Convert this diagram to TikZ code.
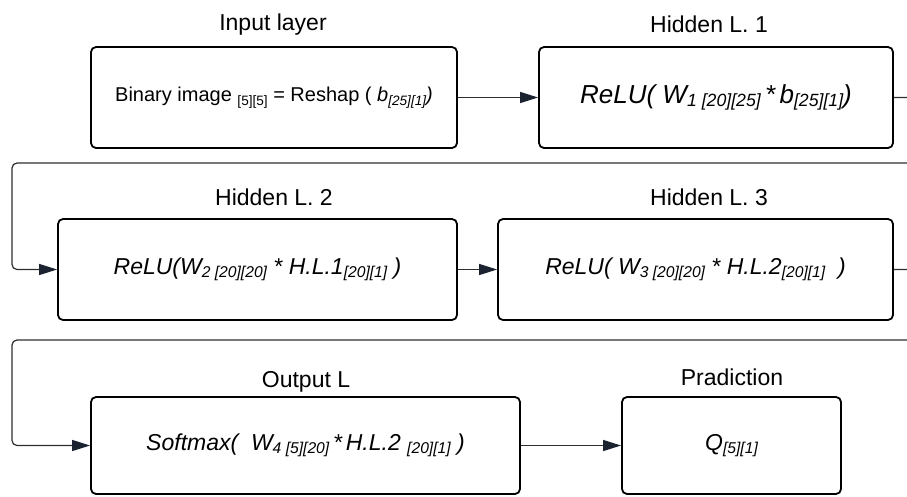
\documentclass[tikz,border=0pt]{standalone}
\usepackage{fontspec}
\setmainfont{Liberation Sans}
\usetikzlibrary{arrows.meta}
\definecolor{lineC}{HTML}{2E2E2E}
\definecolor{tipC}{HTML}{1B2230}
\newcommand\mysub[1]{\raisebox{-0.14em}{\scalebox{0.68}{#1}}}
\newcommand\mysubb[1]{\raisebox{-0.18em}{\scalebox{0.68}{#1}}}
\tikzset{
  layerbox/.style={draw=black, line width=1.8pt, rounded corners=5pt, inner sep=0pt, align=center},
  toptext/.style={anchor=base, font=\fontsize{23}{27}\selectfont},
  conn/.style={draw=lineC, line width=1.2pt, -{Triangle[length=18pt,width=11pt,color=tipC]}},
  connr/.style={conn, rounded corners=5pt},
  midtext/.style={font=\fontsize{23}{27}\selectfont\itshape}
}
\begin{document}
\begin{tikzpicture}[x=1pt,y=-1pt]
\useasboundingbox (0,0) rectangle (907,496);
\clip (0,0) rectangle (907,496);
% labels
\node[toptext] (t1) at (273,30) {Input layer};
\node[toptext] (t2) at (709,32) {Hidden L. 1};
\node[toptext] (t3) at (274,205) {Hidden L. 2};
\node[toptext] (t4) at (709,205) {Hidden L. 3};
\node[toptext] (t5) at (306,387) {Output L};
\node[toptext] (t6) at (732,385) {Pradiction};
% boxes
\node[layerbox, minimum width=366pt, minimum height=101pt, font=\fontsize{20}{24}\selectfont] (b1) at (274,97.5)
  {Binary image \mysubb{[5][5]} = Reshap ( \textit{b\mysubb{[25][1]})}};
\node[layerbox, minimum width=354pt, minimum height=101pt, font=\fontsize{26}{30}\selectfont\itshape] (b2) at (716,97.5)
  {ReLU( W\mysub{1 [20][25]}\,*\,b\mysub{[25][1]})};
\node[layerbox, midtext, minimum width=399pt, minimum height=101pt] (b3) at (257.5,269.5)
  {ReLU(W\mysub{2 [20][20]} * H.L.1\mysub{[20][1]} )};
\node[layerbox, midtext, minimum width=395pt, minimum height=101pt] (b4) at (695.5,269.5)
  {ReLU( W\mysub{3 [20][20]} * H.L.2\mysub{[20][1]}\ \ )};
\node[layerbox, midtext, minimum width=429pt, minimum height=97pt] (b5) at (305.5,445.5)
  {Softmax(\ \ W\mysub{4 [5][20]}\,*\,H.L.2 \mysub{[20][1]} )};
\node[layerbox, midtext, minimum width=219pt, minimum height=97pt] (b6) at (731.5,445.5)
  {Q\mysub{[5][1]}};
% routing points
\coordinate (r1) at (916,163);
\coordinate (l1) at (12,163);
\coordinate (r2) at (916,340);
\coordinate (l2) at (12,340);
% connectors
\draw[conn] (b1.east) -- (b2.west);
\draw[connr] (b2.east) -- (b2.east -| r1) -- (r1) -- (l1) -- (l1 |- b3.west) -- (b3.west);
\draw[conn] (b3.east) -- (b4.west);
\draw[connr] (b4.east) -- (b4.east -| r2) -- (r2) -- (l2) -- (l2 |- b5.west) -- (b5.west);
\draw[conn] (b5.east) -- (b6.west);
\end{tikzpicture}
\end{document}
